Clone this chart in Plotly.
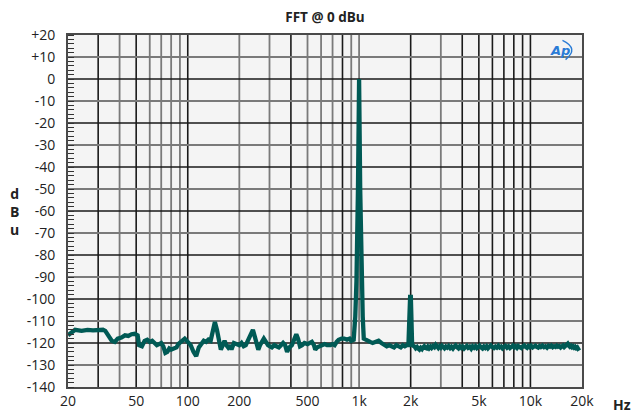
import plotly.graph_objects as go

# ---- data ----
freq_hz = [
    20, 21, 22, 24, 26, 28, 30, 32, 33, 34, 35, 36, 37.5, 39, 41, 43, 45, 47, 49, 51,
    52, 54, 56, 58, 60, 62, 64, 66, 68, 70, 72, 74, 76, 78, 80, 83, 86, 88, 92, 96,
    100, 104, 108, 112, 116, 120, 124, 128, 132, 136, 140, 144, 148, 152, 156, 160,
    164, 168, 172, 176, 180, 186, 192, 200, 206, 212, 218, 224, 232, 240, 246, 252,
    258, 264, 270, 278, 286, 294, 302, 310, 320, 330, 340, 350, 360, 370, 380, 392,
    405, 420, 430, 440, 452, 465, 480, 500, 515, 530, 545, 555, 570, 590, 610, 630,
    650, 680, 700, 720, 740, 760, 790, 820, 850, 880, 900, 930, 950, 965, 985, 1000,
    1015, 1035, 1050, 1065, 1090, 1120, 1160, 1200, 1250, 1300, 1350, 1400, 1450,
    1500, 1550, 1600, 1650, 1700, 1750, 1800, 1850, 1900, 1940, 1985, 2005, 2040,
    2100, 2140, 2180, 2220, 2250, 2290, 2330, 2370, 2400, 2440, 2480, 2520, 2560,
    2610, 2650, 2700, 2750, 2800, 2850, 2900, 2950, 3000, 3050, 3100, 3150, 3210,
    3270, 3330, 3400, 3460, 3530, 3600, 3660, 3730, 3800, 3870, 3950, 4020, 4100,
    4180, 4250, 4330, 4420, 4510, 4600, 4690, 4780, 4870, 4950, 5050, 5150, 5250,
    5350, 5450, 5550, 5650, 5750, 5870, 6000, 6120, 6250, 6370, 6500, 6620, 6750,
    6870, 7000, 7150, 7300, 7450, 7600, 7750, 7900, 8050, 8200, 8350, 8500, 8670,
    8850, 9020, 9200, 9370, 9550, 9720, 9900, 10100, 10300, 10500, 10700, 10900,
    11100, 11300, 11500, 11750, 12000, 12250, 12500, 12750, 13000, 13250, 13500,
    13750, 14000, 14250, 14500, 14750, 15000, 15250, 15500, 15750, 16000, 16250,
    16500, 16750, 17000, 17250, 17500, 17750, 18000, 18250, 18500, 18750, 19000,
    19250, 19500, 19750, 20000,
]
level_dbu = [
    -116.5, -115.5, -114, -114.5, -114, -114.3, -114.2, -114, -114.5, -116, -118, -119,
    -119.5, -118, -117.5, -116.5, -116.8, -116, -115.8, -116.5,
    -121, -121.5, -119, -118.5, -119.5, -119, -120, -121, -120.5, -120, -121.5, -124.5,
    -124, -122.5, -123, -122.5, -122, -120.5, -119, -118,
    -119.5, -121, -124, -126, -122, -120, -119, -119.5, -118.5, -119, -115, -110.5,
    -114, -119, -123, -121,
    -119, -121, -122, -121, -123, -120, -120.5, -121, -120, -121.5, -121, -119, -117,
    -114, -117, -121,
    -123, -121, -120, -118, -119.5, -121, -121.5, -122, -121, -121.5, -122, -121, -120,
    -121, -124, -122,
    -121, -118, -116, -118, -121.5, -121, -120, -120.5, -120, -119.5, -121, -123, -122,
    -121.5, -121, -120.5,
    -121, -121, -120.5, -121, -119.5, -118.5, -118, -118, -118.5, -118, -119, -118.5,
    -108, -92, -50, 0,
    -50, -92, -108, -118, -118.5, -119, -119.5, -120, -119.5, -119, -120, -121, -121.5,
    -121, -121.5, -122, -121, -121.5, -122, -121, -121.5, -121, -121, -99, -99, -121,
    -121.5, -122.4, -121.8, -122.6, -123, -122.2, -122.8, -121.9, -121.5, -122.3,
    -122.5, -121.7, -122.4,
    -121.6, -122.2, -121.4, -121.9, -120.8, -121.6, -122.3, -121.5, -122.1, -121.3,
    -121.9, -122.4, -121.6,
    -122.1, -121.4, -122.3, -121.7, -122.5, -121.6, -121.1, -121.9, -122.4, -121.5,
    -122.2, -121.6, -122.5,
    -121.8, -121.3, -122.2, -121.7, -122.6, -121.5, -122.1, -121.4, -122.3, -121.8,
    -121.2, -122, -122.5,
    -121.6, -122.2, -121.5, -122.4, -121.7, -121.1, -121.9, -122.3, -121.6, -122.1,
    -121.3, -122, -121.6,
    -122.4, -121.8, -121.3, -122.1, -121.5, -122.3, -121.7, -121.2, -122, -121.5,
    -122.2, -121.4, -121.9,
    -122.3, -121.5, -121.1, -121.8, -122.2, -121.4, -121.9, -121.3, -122, -121.6,
    -121.2, -121.8,
    -122.1, -121.4, -121.8, -121.2, -121.9, -121.5, -122.1, -121.3, -121.7, -121.2,
    -121.9,
    -121.5, -121.8, -121.2, -121.7, -121.4, -122, -121.5, -121.1, -121.8, -121.4,
    -120.8, -120.3,
    -121.2, -121.7, -121.3, -121.9, -121.5, -122.1, -121.7, -122.3, -122, -122.8,
    -123.5,
]

x_tick_vals = [20, 50, 100, 200, 500, 1000, 2000, 5000, 10000, 20000]
x_tick_text = ["20", "50", "100", "200", "500", "1k", "2k", "5k", "10k", "20k"]
y_tick_vals = [20, 10, 0, -10, -20, -30, -40, -50, -60, -70, -80, -90, -100,
               -110, -120, -130, -140]
y_tick_text = ["+20", "+10", "0", "-10", "-20", "-30", "-40", "-50", "-60", "-70",
               "-80", "-90", "-100", "-110", "-120", "-130", "-140"]

grid_x_dark = [30, 50, 100, 400, 800, 2000, 4000, 5000, 6000, 7000, 8000, 9000, 10000]
grid_x_gray = [40, 60, 70, 80, 90, 200, 300, 500, 600, 700, 900, 1000, 3000]
grid_y_dark = [0, -20, -40, -60, -80, -100, -120]
grid_y_gray = [10, -10, -30, -50, -70, -90, -110, -130]

FONT = "Open Sans"
TRACE = "#005a55"
DARK = "#1a1a1a"
GRAY = "#7a7a7a"

W, H = 636, 414

fig = go.Figure()
fig.add_trace(go.Scatter(
    x=freq_hz, y=level_dbu, mode="lines",
    line=dict(color=TRACE, width=4.3),
    hoverinfo="x+y", showlegend=False,
))

shapes = []
for v in grid_x_dark:
    shapes.append(dict(type="line", xref="x", yref="paper", x0=v, x1=v, y0=0, y1=1,
                       line=dict(color=DARK, width=1.6), layer="below"))
for v in grid_x_gray:
    shapes.append(dict(type="line", xref="x", yref="paper", x0=v, x1=v, y0=0, y1=1,
                       line=dict(color=GRAY, width=1.8), layer="below"))
for v in grid_y_dark:
    shapes.append(dict(type="line", xref="paper", yref="y", x0=0, x1=1, y0=v, y1=v,
                       line=dict(color=DARK, width=1.6), layer="below"))
for v in grid_y_gray:
    shapes.append(dict(type="line", xref="paper", yref="y", x0=0, x1=1, y0=v, y1=v,
                       line=dict(color=GRAY, width=1.8), layer="below"))
# AP logo swoosh
shapes.append(dict(type="path", xref="paper", yref="paper",
                   path="M 0.962 0.985 Q 0.995 0.962 0.968 0.93",
                   line=dict(color="#2a7bd6", width=1.4)))

fig.update_layout(
    width=W, height=H,
    margin=dict(l=68, r=54, t=35, b=27, autoexpand=False),
    paper_bgcolor="white", plot_bgcolor="#f4f4f4",
    font=dict(family=FONT, size=14, color="#222"),
    title=dict(text="<b>FFT @ 0 dBu</b>", x=(68 + 257) / W, xanchor="center",
               y=1 - 17 / H, yanchor="middle", font=dict(size=13.5, color="#222")),
    shapes=shapes,
    xaxis=dict(
        type="log", range=[1.30103, 4.30103], automargin=False,
        tickvals=x_tick_vals, ticktext=x_tick_text,
        showgrid=False, zeroline=False, ticks="",
        showline=True, mirror=True, linecolor="#4a4a4a", linewidth=2,
        tickfont=dict(size=14, family=FONT, color="#222"),
    ),
    yaxis=dict(
        range=[-140, 20], automargin=False,
        tickvals=y_tick_vals, ticktext=y_tick_text,
        showgrid=False, zeroline=False, ticks="",
        ticklabelstandoff=8,
        showline=True, mirror=True, linecolor="#4a4a4a", linewidth=2,
        tickfont=dict(size=14, family=FONT, color="#222"),
        minor=dict(ticks="inside", dtick=2, tick0=0, ticklen=6, tickwidth=1.3,
                   tickcolor="#333", showgrid=False),
    ),
    annotations=[
        dict(text="<b>d<br>B<br>u</b>", xref="paper", yref="paper",
             x=-54 / 514, y=0.5, xanchor="center", yanchor="middle",
             showarrow=False, align="center", font=dict(size=14, color="#222")),
        dict(text="<b>Hz</b>", xref="paper", yref="paper",
             x=1 + 40 / 514, y=-17 / 352, xanchor="center", yanchor="middle",
             showarrow=False, font=dict(size=14, color="#222")),
        dict(text="<b><i>Ap</i></b>", xref="paper", yref="paper",
             x=0.958, y=0.957, xanchor="center", yanchor="middle",
             showarrow=False, font=dict(size=13, color="#2a7bd6", family="DejaVu Sans")),
    ],
)

fig.write_html(
    "out.html",
    config={"displayModeBar": False},
    post_script="document.body.style.margin='0px';document.body.style.overflow='hidden';",
)
